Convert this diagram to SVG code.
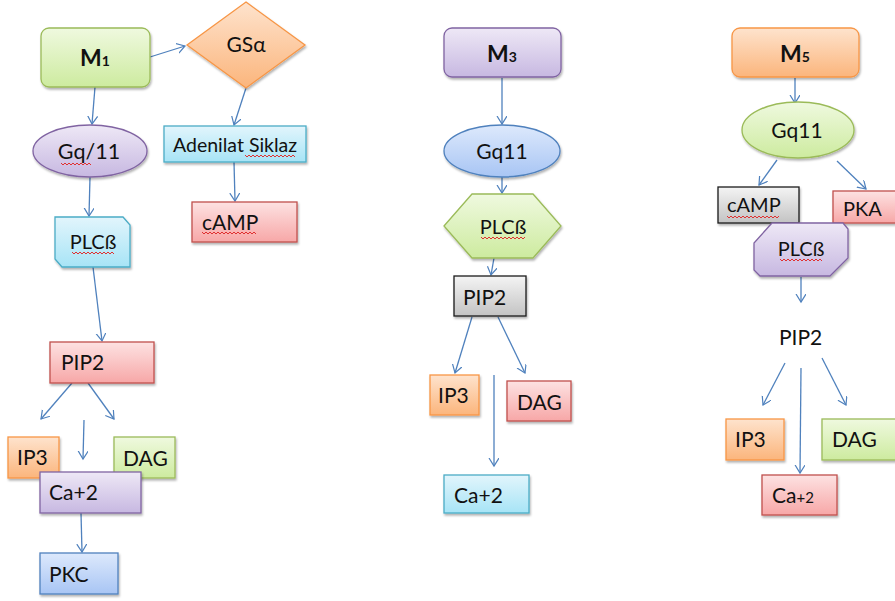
<svg xmlns="http://www.w3.org/2000/svg" width="895" height="601" viewBox="0 0 895 601">
<defs>
<linearGradient id="gGreen" x1="0" y1="0" x2="0" y2="1"><stop offset="0" stop-color="#eff9df"/><stop offset="1" stop-color="#cdeb9f"/></linearGradient>
<linearGradient id="gOrange" x1="0" y1="0" x2="0" y2="1"><stop offset="0" stop-color="#fee3cd"/><stop offset="1" stop-color="#fbb57c"/></linearGradient>
<linearGradient id="gPurple" x1="0" y1="0" x2="0" y2="1"><stop offset="0" stop-color="#eee8f6"/><stop offset="1" stop-color="#c7b8e1"/></linearGradient>
<linearGradient id="gCyan" x1="0" y1="0" x2="0" y2="1"><stop offset="0" stop-color="#e2f5fc"/><stop offset="1" stop-color="#a7e4f6"/></linearGradient>
<linearGradient id="gRed" x1="0" y1="0" x2="0" y2="1"><stop offset="0" stop-color="#fde2e2"/><stop offset="1" stop-color="#f7a7a7"/></linearGradient>
<linearGradient id="gBlue" x1="0" y1="0" x2="0" y2="1"><stop offset="0" stop-color="#dde9fc"/><stop offset="1" stop-color="#a8c5f4"/></linearGradient>
<linearGradient id="gGrey" x1="0" y1="0" x2="0" y2="1"><stop offset="0" stop-color="#f4f4f4"/><stop offset="1" stop-color="#c3c3c3"/></linearGradient>
<filter id="sh" x="-10%" y="-10%" width="130%" height="140%"><feDropShadow dx="1" dy="2" stdDeviation="1.3" flood-color="#000" flood-opacity="0.3"/></filter>
<marker id="ah" markerWidth="10" markerHeight="12" refX="8" refY="5" orient="auto" markerUnits="userSpaceOnUse"><path d="M0,0 L8,5 L0,10" fill="none" stroke="#4f81bd" stroke-width="1.2"/></marker>
</defs>
<style>
text{font-family:Lato,"Liberation Sans",sans-serif;font-size:21px;fill:#111;}
.c{text-anchor:middle;}
.green{fill:url(#gGreen);stroke:#9bbb59;stroke-width:1.3;filter:url(#sh);}
.orange{fill:url(#gOrange);stroke:#f79646;stroke-width:1.3;filter:url(#sh);}
.purple{fill:url(#gPurple);stroke:#8064a2;stroke-width:1.3;filter:url(#sh);}
.cyan{fill:url(#gCyan);stroke:#4bacc6;stroke-width:1.3;filter:url(#sh);}
.red{fill:url(#gRed);stroke:#c0504d;stroke-width:1.3;filter:url(#sh);}
.blue{fill:url(#gBlue);stroke:#4f81bd;stroke-width:1.3;filter:url(#sh);}
.grey{fill:url(#gGrey);stroke:#1a1a1a;stroke-width:1.3;filter:url(#sh);}
.edge{stroke:#4f81bd;stroke-width:1.3;fill:none;marker-end:url(#ah);}
.sq{stroke:#e03030;stroke-width:1;fill:none;}
.mb{font-weight:bold;font-size:23px;}
.ms{font-weight:bold;font-size:14px;}
</style>

<g id="connectors">
<line class="edge" x1="150" y1="57" x2="185" y2="46"/>
<line class="edge" x1="95" y1="87" x2="92" y2="124"/>
<line class="edge" x1="246" y1="88" x2="234" y2="125"/>
<line class="edge" x1="234" y1="162" x2="235" y2="201"/>
<line class="edge" x1="90" y1="177" x2="89" y2="216"/>
<line class="edge" x1="93" y1="267" x2="102" y2="341"/>
<line class="edge" x1="72" y1="383" x2="41" y2="419"/>
<line class="edge" x1="88" y1="383" x2="114" y2="419"/>
<line class="edge" x1="84" y1="420" x2="83" y2="459"/>
<line class="edge" x1="81" y1="513" x2="82" y2="552"/>

<line class="edge" x1="502" y1="78" x2="502" y2="124"/>
<line class="edge" x1="502" y1="177" x2="502" y2="193"/>
<line class="edge" x1="494" y1="258" x2="491" y2="275"/>
<line class="edge" x1="472" y1="317" x2="455" y2="373"/>
<line class="edge" x1="498" y1="317" x2="525" y2="373"/>
<line class="edge" x1="494" y1="375" x2="494" y2="466"/>

<line class="edge" x1="795" y1="78" x2="795" y2="103"/>
<line class="edge" x1="777" y1="160" x2="759" y2="185"/>
<line class="edge" x1="837" y1="161" x2="866" y2="189"/>
<line class="edge" x1="801" y1="277" x2="801" y2="302"/>
<line class="edge" x1="785" y1="363" x2="763" y2="405"/>
<line class="edge" x1="801" y1="368" x2="800" y2="473"/>
<line class="edge" x1="822" y1="358" x2="846" y2="405"/>
</g>

<!-- Left column -->
<g id="M1"><rect class="green" x="41" y="28" width="109" height="59" rx="8"/><text class="c" x="95" y="66"><tspan class="mb">M</tspan><tspan class="ms">1</tspan></text></g>
<g id="GSa"><polygon class="orange" points="246,2 305,45 246,88 187,45"/><text class="c" x="246" y="52">GSα</text></g>
<g id="Gq11_left"><ellipse class="purple" cx="90" cy="151" rx="57" ry="26"/><text class="c" x="89" y="159" style="font-size:21.5px">Gq/11</text><path class="sq" d="M61,163 l2,2 l2,-2 l2,2 l2,-2 l2,2 l2,-2 l2,2 l2,-2 l2,2 l2,-2 l2,2 l2,-2 l2,2 l2,-2 l2,2"/></g>
<g id="Adenilat"><rect class="cyan" x="164" y="126" width="142" height="36"/><text x="173" y="152" style="font-size:19.5px">Adenilat Siklaz</text><path class="sq" d="M245,155 l2,2 l2,-2 l2,2 l2,-2 l2,2 l2,-2 l2,2 l2,-2 l2,2 l2,-2 l2,2 l2,-2 l2,2 l2,-2 l2,2 l2,-2 l2,2 l2,-2 l2,2 l2,-2 l2,2 l2,-2 l2,2 l2,-2 l2,2"/></g>
<g id="cAMP_left"><rect class="red" x="192" y="202" width="105" height="40"/><text x="202" y="230">cAMP</text><path class="sq" d="M202,232 l2,2 l2,-2 l2,2 l2,-2 l2,2 l2,-2 l2,2 l2,-2 l2,2 l2,-2 l2,2 l2,-2 l2,2 l2,-2 l2,2 l2,-2 l2,2 l2,-2 l2,2 l2,-2 l2,2 l2,-2 l2,2 l2,-2 l2,2 l2,-2 l2,2"/></g>
<g id="PLCb_left"><polygon class="cyan" points="55,217 123,217 130,225 130,267 62,267 55,259"/><text class="c" x="93" y="249" style="font-size:20px">PLCß</text><path class="sq" d="M72,252 l2,2 l2,-2 l2,2 l2,-2 l2,2 l2,-2 l2,2 l2,-2 l2,2 l2,-2 l2,2 l2,-2 l2,2 l2,-2 l2,2 l2,-2 l2,2 l2,-2 l2,2 l2,-2 l2,2"/></g>
<g id="PIP2_left"><rect class="red" x="50" y="342" width="104" height="41"/><text x="61" y="370">PIP2</text></g>
<g id="IP3_left"><rect class="orange" x="8" y="437" width="51" height="41"/><text x="17" y="465">IP3</text></g>
<g id="DAG_left"><rect class="green" x="114" y="437" width="61" height="41"/><text x="123" y="466">DAG</text></g>
<g id="Ca_left"><rect class="purple" x="40" y="472" width="101" height="41"/><text x="49" y="500">Ca+2</text></g>
<g id="PKC"><rect class="blue" x="40" y="553" width="78" height="41"/><text x="49" y="582">PKC</text></g>

<!-- Middle column -->
<g id="M3"><rect class="purple" x="444" y="28" width="117" height="49" rx="8"/><text class="c" x="502" y="62"><tspan class="mb">M</tspan><tspan class="ms">3</tspan></text></g>
<g id="Gq11_mid"><ellipse class="blue" cx="502" cy="151" rx="58" ry="26"/><text class="c" x="502" y="159">Gq11</text></g>
<g id="PLCb_mid"><polygon class="green" points="444,226 472,194 533,194 561,226 533,258 472,258"/><text class="c" x="503" y="234" style="font-size:20px">PLCß</text><path class="sq" d="M481,237 l2,2 l2,-2 l2,2 l2,-2 l2,2 l2,-2 l2,2 l2,-2 l2,2 l2,-2 l2,2 l2,-2 l2,2 l2,-2 l2,2 l2,-2 l2,2 l2,-2 l2,2 l2,-2 l2,2 l2,-2"/></g>
<g id="PIP2_mid"><rect class="grey" x="454" y="276" width="72" height="40"/><text x="463" y="305">PIP2</text></g>
<g id="IP3_mid"><rect class="orange" x="430" y="375" width="49" height="40"/><text x="438" y="403">IP3</text></g>
<g id="DAG_mid"><rect class="red" x="507" y="381" width="64" height="40"/><text x="517" y="410">DAG</text></g>
<g id="Ca_mid"><rect class="cyan" x="444" y="475" width="85" height="38"/><text x="454" y="503">Ca+2</text></g>

<!-- Right column -->
<g id="M5"><rect class="orange" x="732" y="28" width="127" height="49" rx="8"/><text class="c" x="795" y="62"><tspan class="mb">M</tspan><tspan class="ms">5</tspan></text></g>
<g id="Gq11_right"><ellipse class="green" cx="798" cy="130" rx="56" ry="28"/><text class="c" x="797" y="138">Gq11</text></g>
<g id="cAMP_right"><rect class="grey" x="718" y="187" width="81" height="36"/><text x="727" y="212" style="font-size:20px">cAMP</text><path class="sq" d="M727,216 l2,2 l2,-2 l2,2 l2,-2 l2,2 l2,-2 l2,2 l2,-2 l2,2 l2,-2 l2,2 l2,-2 l2,2 l2,-2 l2,2 l2,-2 l2,2 l2,-2 l2,2 l2,-2 l2,2 l2,-2 l2,2 l2,-2 l2,2 l2,-2"/></g>
<g id="PKA"><rect class="red" x="833" y="191" width="72" height="32"/><text x="843" y="216" style="font-size:20px">PKA</text></g>
<g id="PLCb_right"><polygon class="purple" points="772,223 843,223 848,229 848,258 830,276 760,276 754,270 754,243"/><text class="c" x="801" y="256" style="font-size:20px">PLCß</text><path class="sq" d="M780,259 l2,2 l2,-2 l2,2 l2,-2 l2,2 l2,-2 l2,2 l2,-2 l2,2 l2,-2 l2,2 l2,-2 l2,2 l2,-2 l2,2 l2,-2 l2,2 l2,-2 l2,2 l2,-2 l2,2"/></g>
<g id="PIP2_right"><text x="779" y="345">PIP2</text></g>
<g id="IP3_right"><rect class="orange" x="726" y="419" width="58" height="41"/><text x="735" y="447">IP3</text></g>
<g id="DAG_right"><rect class="green" x="822" y="419" width="80" height="41"/><text x="832" y="447">DAG</text></g>
<g id="Ca_right"><rect class="red" x="762" y="475" width="75" height="40"/><text x="772" y="503">Ca<tspan style="font-size:15px">+2</tspan></text></g>
</svg>
